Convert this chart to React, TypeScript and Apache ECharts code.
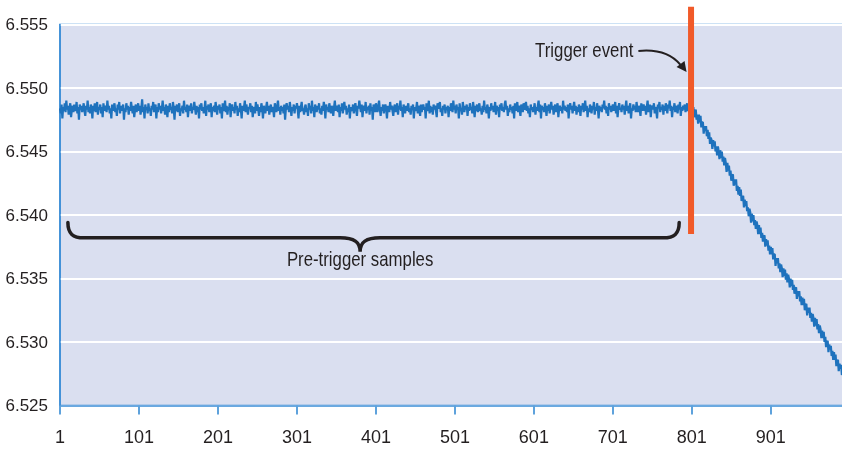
import { useEffect, useRef } from "react";
import * as echarts from "echarts";

// Values are in ten-thousandths above 6.5 (e.g. 485 -> 6.5485)
const VALUE_OFFSET = 6.5;
const VALUE_UNIT = 0.0001;

// Samples 1..800 (before the trigger)
const preTrigger = [
  484,480,487,476,485,482,488,481,490,483, 486,479,484,488,477,483,486,481,487,484,
  482,489,480,485,475,487,483,486,481,484, 488,482,478,486,483,490,481,485,480,487,
  484,476,486,482,488,481,484,489,479,485, 483,487,480,485,477,488,482,486,484,481,
  490,483,486,480,484,476,487,482,485,488, 481,484,478,487,483,489,480,486,482,485,
  487,475,484,481,488,483,486,479,485,482, 489,484,480,486,477,483,487,481,485,488,
  482,486,479,484,491,481,485,476,487,483, 485,480,488,482,484,478,486,483,489,481,
  484,487,476,485,481,488,483,486,480,484, 490,482,485,479,487,483,477,486,481,488,
  483,485,480,489,484,475,486,482,487,481, 485,488,478,484,482,486,480,490,483,485,
  481,487,477,484,486,482,488,480,485,483, 489,484,479,486,481,485,476,487,483,488,
  482,485,480,484,490,478,486,483,487,481, 484,488,477,485,482,486,481,489,484,479,
  486,483,487,480,485,476,488,482,484,490, 481,486,479,485,483,488,477,484,487,482,
  485,480,489,483,486,478,484,481,488,483, 476,486,482,485,490,481,487,483,479,485,
  484,488,481,486,477,483,485,480,489,482, 487,483,478,485,481,488,484,476,486,483,
  480,485,489,482,486,479,484,487,481,485, 483,477,488,484,481,486,490,482,485,479,
  486,482,485,480,487,475,484,488,483,486, 481,489,484,478,485,482,487,480,486,484,
  488,483,476,486,481,485,489,482,484,479, 485,487,481,484,478,488,483,486,480,490,
  482,485,477,487,484,481,486,483,488,480, 484,479,486,482,489,485,476,487,483,485,
  481,488,484,480,486,483,478,485,490,482, 486,484,481,487,477,485,482,488,480,484,
  489,483,486,479,484,481,487,476,485,483, 482,487,480,485,488,483,478,486,484,490,
  485,481,487,477,484,486,482,489,480,485, 483,486,479,488,482,485,475,487,484,481,
  488,484,481,486,490,483,478,485,482,487, 480,485,487,483,476,486,484,481,489,483,
  486,482,478,485,487,481,484,488,479,486, 483,490,482,485,477,487,484,480,486,482,
  485,488,481,484,479,486,483,487,476,485, 482,484,489,480,486,483,478,487,481,485,
  487,483,485,476,488,482,484,490,480,486, 481,485,479,487,483,486,482,477,488,484,
  485,489,481,484,478,486,483,487,480,485, 483,486,477,485,482,488,484,481,490,483,
  486,480,487,483,485,476,488,482,484,479, 489,484,481,486,483,487,478,485,482,488,
  483,485,480,489,484,477,486,482,487,481, 485,488,482,484,479,486,481,490,483,485,
  480,487,484,476,485,482,488,483,486,481, 484,489,479,486,482,485,477,487,483,488,
  482,485,481,487,490,483,486,478,484,481, 487,483,485,480,486,476,488,482,485,489,
  481,486,483,478,487,484,481,488,483,485, 489,482,486,480,484,477,487,483,485,481,
  484,488,479,485,482,486,490,481,487,476, 486,483,485,481,488,484,478,486,482,487,
  480,485,489,483,486,479,484,487,481,485, 488,477,484,486,482,485,480,490,483,486,
  482,485,481,487,476,484,488,483,486,480, 485,489,482,486,479,485,481,487,484,478,
  486,483,488,481,485,490,482,486,477,484, 481,487,484,480,486,483,489,479,485,482,
  488,484,476,486,482,485,481,487,484,490, 483,486,480,485,478,488,483,486,481,484,
  487,482,485,489,480,486,477,484,488,483, 484,481,487,483,486,479,485,490,482,486,
  480,485,488,476,484,482,487,483,486,481, 489,484,481,486,483,478,488,482,485,487,
  482,486,479,485,490,481,484,487,477,485, 486,483,488,480,485,482,476,487,484,489,
  481,485,483,487,479,486,482,488,484,480, 487,484,490,482,486,477,485,483,488,481,
  484,486,480,487,483,489,478,485,482,486, 483,487,481,485,488,482,484,479,486,484,
];

// Samples 801..1000 (after the trigger)
const postTrigger = [
  486,480,485,477,481,483,475,479,472,479, 473,478,469,473,473,464,470,466,470,462,
  467,460,465,456,461,459,452,459,454,458, 450,454,447,454,450,444,451,445,450,442,
  446,439,445,441,434,441,435,439,431,435, 427,431,432,423,428,424,428,419,423,416,
  422,415,420,411,414,415,406,412,407,411, 403,406,399,405,402,394,401,395,400,392,
  396,389,395,392,385,392,385,390,382,386, 379,383,384,375,381,376,380,372,376,369,
  375,369,374,365,369,369,360,366,362,366, 358,362,355,361,358,351,358,352,357,349,
  354,347,353,350,343,350,344,349,341,345, 338,342,343,334,340,336,340,332,336,329,
  335,329,334,325,329,330,321,327,323,327, 319,323,316,322,319,312,319,313,318,310,
  314,307,313,310,303,309,303,308,300,304, 296,300,301,292,298,294,297,289,293,286,
  292,286,290,281,285,286,277,283,279,282, 274,278,271,277,274,267,274,268,273,264,
];

const Y_MIN = 6.525;
const Y_MAX = 6.555;
const Y_STEP = 0.005;
const X_LABEL_EVERY = 100;

const TRIGGER_TEXT = "Trigger event";
const BRACE_TEXT = "Pre-trigger samples";

const allValues = [...preTrigger, ...postTrigger];
const sampleNumbers = allValues.map((_, i) => String(i + 1));
const seriesData = allValues.map((v) => +(VALUE_OFFSET + v * VALUE_UNIT).toFixed(4));
const triggerIndex = preTrigger.length - 1; // sample 800

const FONT = "'Liberation Sans', Arial, sans-serif";
const BLUE_AXIS = "#3a8cd6";
const LINE_BLUE = "#1e72bd";
const TEXT = "#231f20";
const NARROW = 0.84;

export default function App() {
  const ref = useRef<HTMLDivElement>(null);

  useEffect(() => {
    if (!ref.current) return;
    const chart = echarts.init(ref.current, null, { renderer: "svg" });
    chart.setOption({
      animation: false,
      grid: {
        left: 60,
        top: 24.5,
        width: 789,
        bottom: 45.5,
        show: true,
        backgroundColor: "#dadff0",
        borderColor: BLUE_AXIS,
        borderWidth: 1.5,
        outerBoundsMode: "none",
        containLabel: false,
      },
      xAxis: {
        type: "category",
        data: sampleNumbers,
        boundaryGap: false,
        axisLine: { show: true, lineStyle: { color: BLUE_AXIS, width: 1.5 } },
        axisTick: {
          show: true,
          interval: X_LABEL_EVERY - 1,
          length: 9,
          lineStyle: { color: "#5ea2dc", width: 2 },
        },
        axisLabel: {
          interval: X_LABEL_EVERY - 1,
          fontFamily: FONT,
          fontSize: 18,
          color: TEXT,
          margin: 22,
        },
        splitLine: { show: false },
      },
      yAxis: {
        type: "value",
        min: Y_MIN,
        max: Y_MAX,
        interval: Y_STEP,
        axisLine: { show: true, lineStyle: { color: BLUE_AXIS, width: 1.5 } },
        axisTick: { show: false },
        axisLabel: {
          fontFamily: FONT,
          fontSize: 17,
          color: TEXT,
          margin: 12,
          formatter: (v: number) => v.toFixed(3),
        },
        splitLine: { show: true, lineStyle: { color: "#ffffff", width: 2 } },
      },
      series: [
        {
          type: "line",
          data: seriesData,
          symbol: "none",
          showSymbol: false,
          silent: true,
          lineStyle: { color: LINE_BLUE, width: 2.2 },
        },
      ],
    });

    const px = (i: number, v: number) =>
      chart.convertToPixel({ gridIndex: 0 }, [i, v]) as number[];

    // trigger bar
    const [tx, tTop] = px(triggerIndex, 6.5564);
    const [, tBot] = px(triggerIndex, 6.5385);

    // brace geometry
    const [xl, yTip] = px(10, 6.5394);
    const [xr] = px(784, 6.5394);
    const [xc, yBar] = px(380, 6.5382);
    const [, yPt] = px(380, 6.5371);
    const [, yText] = px(380, 6.5365);
    const braceD =
      `M${xl},${yTip} C${xl},${yBar - 4} ${xl + 5},${yBar} ${xl + 16},${yBar} ` +
      `L${xc - 20},${yBar} C${xc - 6},${yBar} ${xc},${yBar + 4} ${xc},${yPt} ` +
      `C${xc},${yBar + 4} ${xc + 6},${yBar} ${xc + 20},${yBar} ` +
      `L${xr - 16},${yBar} C${xr - 5},${yBar} ${xr},${yBar - 4} ${xr},${yTip}`;
    echarts.graphic.registerShape("preTriggerBrace", echarts.graphic.extendPath(braceD, {}));

    // trigger label & arrow
    const [lx, ly] = px(726, 6.553);
    const ax0 = lx + 5;
    const ay0 = ly + 1;
    const tipX = tx - 4.5;
    const tipY = ay0 + 21;

    chart.setOption({
      graphic: [
        {
          type: "rect",
          z: 100,
          shape: { x: tx - 3, y: tTop, width: 6, height: tBot - tTop },
          style: { fill: "#f15a29" },
        },
        {
          type: "preTriggerBrace",
          z: 100,
          x: 0,
          y: 0,
          style: { fill: null, stroke: TEXT, lineWidth: 3.5, lineCap: "round" },
        },
        {
          type: "text",
          z: 100,
          x: xc,
          y: yText,
          scaleX: NARROW,
          style: {
            text: BRACE_TEXT,
            fontFamily: FONT,
            fontSize: 20,
            fill: TEXT,
            align: "center",
            verticalAlign: "middle",
          },
        },
        {
          type: "text",
          z: 100,
          x: lx,
          y: ly,
          scaleX: NARROW,
          style: {
            text: TRIGGER_TEXT,
            fontFamily: FONT,
            fontSize: 20,
            fill: TEXT,
            align: "right",
            verticalAlign: "middle",
          },
        },
        {
          type: "bezierCurve",
          z: 100,
          shape: {
            x1: ax0,
            y1: ay0,
            cpx1: ax0 + 20,
            cpy1: ay0 - 2,
            cpx2: ax0 + 34,
            cpy2: ay0 + 4,
            x2: tipX - 6,
            y2: tipY - 7,
          },
          style: { fill: null, stroke: TEXT, lineWidth: 2 },
        },
        {
          type: "polygon",
          z: 100,
          shape: {
            points: [
              [tipX, tipY],
              [tipX - 10, tipY - 5],
              [tipX - 2, tipY - 11],
            ],
          },
          style: { fill: TEXT },
        },
      ],
    });

    return () => chart.dispose();
  }, []);

  return (
    <div
      ref={ref}
      style={{ position: "fixed", left: 0, top: 0, width: 842, height: 451 }}
    />
  );
}
